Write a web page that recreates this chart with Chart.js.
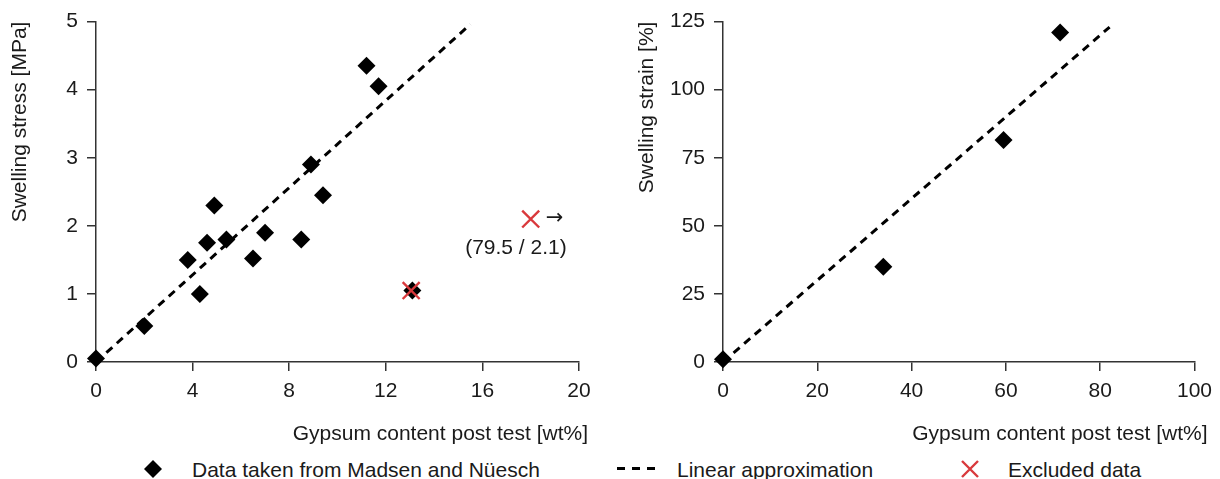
<!DOCTYPE html>
<html>
<head>
<meta charset="utf-8">
<script src="https://cdn.jsdelivr.net/npm/chart.js@4"></script>
<style>
  html, body { margin: 0; padding: 0; background: #fff; }
  #wrap { position: relative; width: 1220px; height: 479px; overflow: hidden;
          font-family: "Liberation Sans", Arial, sans-serif; color: #1a1a1a; }
  .panel { position: absolute; top: 0; width: 610px; height: 455px; }
  .lg-text { position: absolute; top: 459px; font-size: 21px; line-height: 21px; white-space: nowrap; }
  .lg-icon { position: absolute; }
</style>
</head>
<body>
<div id="wrap">
  <div class="panel" style="left:0"><canvas id="stressChart" width="610" height="455"></canvas></div>
  <div class="panel" style="left:610px"><canvas id="strainChart" width="610" height="455"></canvas></div>

  <svg class="lg-icon" style="left:144px;top:460px" width="18" height="18" viewBox="0 0 18 18">
    <polygon points="9,0 18,9 9,18 0,9" fill="#000"/>
  </svg>
  <div class="lg-text" style="left:192px">Data taken from Madsen and Nüesch</div>

  <svg class="lg-icon" style="left:617px;top:467px" width="38" height="4" viewBox="0 0 38 4">
    <rect x="0" y="0" width="8" height="3" fill="#000"/>
    <rect x="15" y="0" width="8" height="3" fill="#000"/>
    <rect x="30" y="0" width="8" height="3" fill="#000"/>
  </svg>
  <div class="lg-text" style="left:677px">Linear approximation</div>

  <svg class="lg-icon" style="left:961px;top:460px" width="18" height="18" viewBox="0 0 18 18">
    <path d="M1,1 L17,17 M17,1 L1,17" stroke="#d9393c" stroke-width="2.4" fill="none"/>
  </svg>
  <div class="lg-text" style="left:1008px">Excluded data</div>
</div>

<script>
// ---- Swelling stress vs. gypsum content (left panel) ----
const stressGypsum = [0, 2.0, 3.8, 4.3, 4.6, 4.9, 5.4, 6.5, 7.0, 8.5, 8.9, 9.4, 11.2, 11.7, 13.1];
const stressMPa    = [0.05, 0.53, 1.5, 1.0, 1.75, 2.3, 1.8, 1.52, 1.9, 1.8, 2.9, 2.45, 4.35, 4.05, 1.05];
const stressFitGypsum = [0, 15.5];
const stressFitMPa    = [0, 4.96];
const excludedGypsum = [13.05];
const excludedMPa    = [1.05];
// excluded sample lying far beyond the axis range (gypsum / stress)
const offScaleGypsum = 79.5;
const offScaleMPa    = 2.1;
const stressTicksX = [0, 4, 8, 12, 16, 20];
const stressTicksY = [0, 1, 2, 3, 4, 5];

// ---- Swelling strain vs. gypsum content (right panel) ----
const strainGypsum = [0, 34, 59.5, 71.5];
const strainPct    = [1, 35, 81.5, 121];
const strainFitGypsum = [0, 82];
const strainFitPct    = [0, 123];
const strainTicksX = [0, 20, 40, 60, 80, 100];
const strainTicksY = [0, 25, 50, 75, 100, 125];

const FONT_FAMILY = '"Liberation Sans", Arial, sans-serif';
const TEXT = '#1a1a1a';
const AXIS = '#333333';
const RED = '#d9393c';

const pts = (xs, ys) => xs.map((x, i) => ({ x, y: ys[i] }));

// x-axis title drawn right-aligned slightly past the end of the axis
const xTitlePlugin = {
  id: 'xTitle',
  afterDraw(chart, args, opts) {
    const { ctx, chartArea } = chart;
    ctx.save();
    ctx.font = '21px ' + FONT_FAMILY;
    ctx.fillStyle = TEXT;
    ctx.textAlign = 'right';
    ctx.textBaseline = 'alphabetic';
    ctx.fillText(opts.text, chartArea.right + opts.overhang, opts.baseline);
    ctx.restore();
  }
};

// arrow and value note next to the off-scale excluded marker
const offScaleNote = {
  id: 'offScaleNote',
  afterDatasetsDraw(chart, args, opts) {
    if (!opts.enabled) return;
    const { ctx, scales } = chart;
    const px = scales.x.getPixelForValue(opts.markerX);
    const py = scales.y.getPixelForValue(opts.value.y);
    ctx.save();
    ctx.fillStyle = TEXT;
    ctx.font = '21px "DejaVu Sans", sans-serif';
    ctx.textBaseline = 'middle';
    ctx.textAlign = 'left';
    ctx.fillText('\u2192', px + 15, py);
    ctx.font = '21px ' + FONT_FAMILY;
    ctx.textAlign = 'right';
    ctx.textBaseline = 'alphabetic';
    ctx.fillText('(' + opts.value.x + ' / ' + opts.value.y + ')', px + 36, py + 35);
    ctx.restore();
  }
};

function makeScales(ticksX, ticksY, yTitle, yWidth, yTitlePad) {
  const tickFont = { family: FONT_FAMILY, size: 21 };
  const common = {
    type: 'linear',
    border: { display: true, color: AXIS, width: 1.5 },
    grid: { display: true, drawOnChartArea: false, drawTicks: true, tickLength: 9, color: AXIS, lineWidth: 1.5 },
  };
  return {
    x: Object.assign({}, common, {
      position: 'bottom',
      min: ticksX[0], max: ticksX[ticksX.length - 1],
      afterBuildTicks: s => { s.ticks = ticksX.map(v => ({ value: v })); },
      ticks: { font: tickFont, color: TEXT, padding: 8, maxRotation: 0 },
      afterFit: s => { s.height = 455 - 362; }
    }),
    y: Object.assign({}, common, {
      position: 'left',
      min: ticksY[0], max: ticksY[ticksY.length - 1],
      afterBuildTicks: s => { s.ticks = ticksY.map(v => ({ value: v })); },
      ticks: { font: tickFont, color: TEXT, padding: 9 },
      title: { display: true, text: yTitle, align: 'end', color: TEXT,
               font: { family: FONT_FAMILY, size: 21 }, padding: { top: yTitlePad, bottom: 0 } },
      afterFit: s => { s.width = yWidth; }
    })
  };
}

function fitDataset(xs, ys) {
  return {
    type: 'line', data: pts(xs, ys), order: 2,
    borderColor: '#000', borderWidth: 3, borderDash: [8, 6],
    pointRadius: 0, fill: false, clip: false
  };
}
function measuredDataset(xs, ys) {
  return {
    type: 'scatter', data: pts(xs, ys), order: 1,
    pointStyle: 'rectRot', pointRadius: 9, pointHoverRadius: 9,
    backgroundColor: '#000', borderColor: '#000', borderWidth: 0, clip: false
  };
}
function excludedDataset(xs, ys) {
  return {
    type: 'scatter', data: pts(xs, ys), order: 0,
    pointStyle: 'crossRot', pointRadius: 12, pointHoverRadius: 12,
    borderColor: RED, backgroundColor: RED, borderWidth: 2.4, clip: false
  };
}

const baseOptions = {
  responsive: false,
  animation: false,
  events: [],
  plugins: { legend: { display: false }, tooltip: { enabled: false } }
};

// marker of the off-scale sample, placed near the right end of the axis
const offScaleMarkerX = 18;

new Chart(document.getElementById('stressChart'), {
  type: 'scatter',
  data: {
    datasets: [
      fitDataset(stressFitGypsum, stressFitMPa),
      measuredDataset(stressGypsum, stressMPa),
      excludedDataset(excludedGypsum.concat([offScaleMarkerX]), excludedMPa.concat([offScaleMPa]))
    ]
  },
  options: Object.assign({}, baseOptions, {
    layout: { padding: { top: 21, right: 31, left: 0, bottom: 0 } },
    scales: makeScales(stressTicksX, stressTicksY, 'Swelling stress [MPa]', 96, 8),
    plugins: Object.assign({}, baseOptions.plugins, {
      xTitle: { text: 'Gypsum content post test [wt%]', overhang: 9, baseline: 440 },
      offScaleNote: { enabled: true, markerX: offScaleMarkerX, value: { x: offScaleGypsum, y: offScaleMPa } }
    })
  }),
  plugins: [xTitlePlugin, offScaleNote]
});

new Chart(document.getElementById('strainChart'), {
  type: 'scatter',
  data: {
    datasets: [
      fitDataset(strainFitGypsum, strainFitPct),
      measuredDataset(strainGypsum, strainPct)
    ]
  },
  options: Object.assign({}, baseOptions, {
    layout: { padding: { top: 21, right: 18, left: 0, bottom: 0 } },
    scales: makeScales(strainTicksX, strainTicksY, 'Swelling strain [%]', 113, 25),
    plugins: Object.assign({}, baseOptions.plugins, {
      xTitle: { text: 'Gypsum content post test [wt%]', overhang: 13, baseline: 440 },
      offScaleNote: { enabled: false }
    })
  }),
  plugins: [xTitlePlugin, offScaleNote]
});
</script>
</body>
</html>
